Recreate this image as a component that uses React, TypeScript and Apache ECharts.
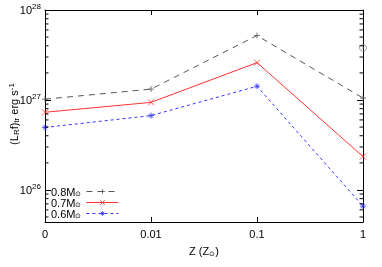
import React, { useEffect, useRef } from "react";
import * as echarts from "echarts";

const categories = ["0", "0.01", "0.1", "1"];
const m08 = [1.02e27, 1.32e27, 5.2e27, 1.05e27];
const m07 = [7.3e26, 9.4e26, 2.6e27, 2.35e26];
const m06 = [4.95e26, 6.7e26, 1.42e27, 6.6e25];
const sunMark = [3, 3.8e27];
const yMin = 4.4e25;
const yMax = 1e28;
const minorTicks = [5e25, 6e25, 7e25, 8e25, 9e25, 2e26, 3e26, 4e26, 5e26, 6e26, 7e26, 8e26, 9e26, 2e27, 3e27, 4e27, 5e27, 6e27, 7e27, 8e27, 9e27];

const FONT = "'Liberation Sans', Arial, sans-serif";

const PLUS = "path://M5 0V10M0 5H10";
const CROSS = "path://M0 0L10 10M10 0L0 10";
const STAR = "path://M5 0V10M0 5H10M1.5 1.5L8.5 8.5M8.5 1.5L1.5 8.5";

const COLORS = { m08: "#555555", m07: "#ff3333", m06: "#3333ff" };

export default function App() {
  const ref = useRef<HTMLDivElement>(null);
  useEffect(() => {
    const chart = echarts.init(ref.current!, null, { renderer: "svg" });
    const mk = (name: string, data: number[], color: string, type: any, symbol: string) => ({
      name,
      type: "line",
      data,
      symbol,
      symbolSize: 6,
      showSymbol: true,
      color,
      lineStyle: { color, width: 1, type },
      itemStyle: { color: "none", borderColor: color, borderWidth: 0.8 },
      z: 3,
    });
    chart.setOption({
      animation: false,
      textStyle: { fontFamily: FONT },
      grid: { left: 45, right: 19, top: 10, bottom: 45, outerBoundsMode: "none", containLabel: false },
      legend: {
        left: 46,
        top: 181,
        orient: "vertical",
        align: "right",
        itemWidth: 32,
        itemHeight: 6,
        itemGap: 0,
        data: ["0.8", "0.7", "0.6"],
        itemStyle: { borderWidth: 0.8 },
        lineStyle: { width: 1 },
        formatter: (n: string) => `{a|${n}M}{s|⊙}`,
        textStyle: {
          fontFamily: FONT,
          color: "#000",
          lineHeight: 10.5,
          rich: {
            a: { fontSize: 11, fontFamily: FONT, color: "#000", lineHeight: 10.5 },
            s: { fontSize: 7, fontFamily: FONT, color: "#000", lineHeight: 10.5, verticalAlign: "bottom" },
          },
        },
      },
      xAxis: [
        {
          type: "category",
          data: categories,
          boundaryGap: false,
          name: "Z (Z{s|⊙})",
          nameLocation: "middle",
          nameGap: 22,
          nameTextStyle: {
            fontSize: 11,
            fontFamily: FONT,
            color: "#000",
            rich: { s: { fontSize: 7, fontFamily: FONT, color: "#000", padding: [6, 0, 0, 0] } },
          },
          axisLine: { lineStyle: { color: "#000", width: 1 } },
          axisTick: { inside: true, length: 5, alignWithLabel: true, lineStyle: { color: "#000" } },
          axisLabel: { fontSize: 11, color: "#000", margin: 6, fontFamily: FONT },
          splitLine: { show: false },
        },
        {
          type: "category",
          data: categories,
          boundaryGap: false,
          position: "top",
          axisLine: { lineStyle: { color: "#000", width: 1 } },
          axisTick: { inside: true, length: 5, lineStyle: { color: "#000" } },
          axisLabel: { show: false },
          splitLine: { show: false },
        },
      ],
      yAxis: [
        {
          type: "log",
          logBase: 10,
          min: yMin,
          max: yMax,
          axisLine: { show: true, lineStyle: { color: "#000", width: 1 } },
          axisTick: { show: true, inside: true, length: 6, lineStyle: { color: "#000" } },
          axisLabel: {
            fontSize: 11,
            color: "#000",
            margin: 4,
            fontFamily: FONT,
            showMinLabel: false,
            formatter: (v: number) => {
              const e = Math.log10(v);
              if (Math.abs(e - Math.round(e)) > 1e-6) return "";
              return `10{p|${Math.round(e)}}`;
            },
            rich: { p: { fontSize: 8, fontFamily: FONT, color: "#000", padding: [0, 0, 7, 0] } },
          },
          splitLine: { show: false },
        },
        {
          type: "log",
          logBase: 10,
          min: yMin,
          max: yMax,
          position: "right",
          axisLine: { show: true, lineStyle: { color: "#000", width: 1 } },
          axisTick: { show: true, inside: true, length: 6, lineStyle: { color: "#000" } },
          axisLabel: { show: false },
          splitLine: { show: false },
        },
      ],
      graphic: [
        {
          type: "text",
          x: 14,
          y: 114,
          rotation: Math.PI / 2,
          style: {
            text: "(L{s|R}f){s|tr} erg s{p|-1}",
            fontSize: 11,
            fontFamily: FONT,
            fill: "#000",
            align: "center",
            verticalAlign: "middle",
            rich: {
              s: { fontSize: 8, fontFamily: FONT, fill: "#000", padding: [5, 0, 0, 0] },
              p: { fontSize: 8, fontFamily: FONT, fill: "#000", padding: [0, 0, 6, 0] },
            },
          },
        },
      ],
      series: [
        mk("0.8", m08, COLORS.m08, [6, 5], PLUS),
        mk("0.7", m07, COLORS.m07, "solid", CROSS),
        mk("0.6", m06, COLORS.m06, [3, 3], STAR),
        {
          name: "sun",
          type: "scatter",
          data: [sunMark],
          symbol: "circle",
          symbolSize: 7,
          itemStyle: { color: "none", borderColor: "#888", borderWidth: 1 },
        },
        {
          name: "sundot",
          type: "scatter",
          data: [sunMark],
          symbol: "circle",
          symbolSize: 1.5,
          itemStyle: { color: "#888" },
        },
        {
          name: "minor",
          type: "custom",
          xAxisIndex: 0,
          yAxisIndex: 0,
          coordinateSystem: "cartesian2d",
          data: minorTicks.map((v) => [0, v]),
          encode: { x: 0, y: 1 },
          clip: false,
          silent: true,
          z: 10,
          renderItem: (params: any, api: any) => {
            const p = api.coord([api.value(0), api.value(1)]);
            const cs = params.coordSys;
            const y = p[1];
            return {
              type: "group",
              children: [
                { type: "rect", shape: { x: cs.x, y: y - 0.5, width: 3.5, height: 1 }, style: { fill: "#000" } },
                { type: "rect", shape: { x: cs.x + cs.width - 3.5, y: y - 0.5, width: 3.5, height: 1 }, style: { fill: "#000" } },
              ],
            };
          },
        },
      ],
    });
    return () => chart.dispose();
  }, []);
  return <div ref={ref} style={{ position: "fixed", left: 0, top: 0, width: 382, height: 267 }} />;
}
